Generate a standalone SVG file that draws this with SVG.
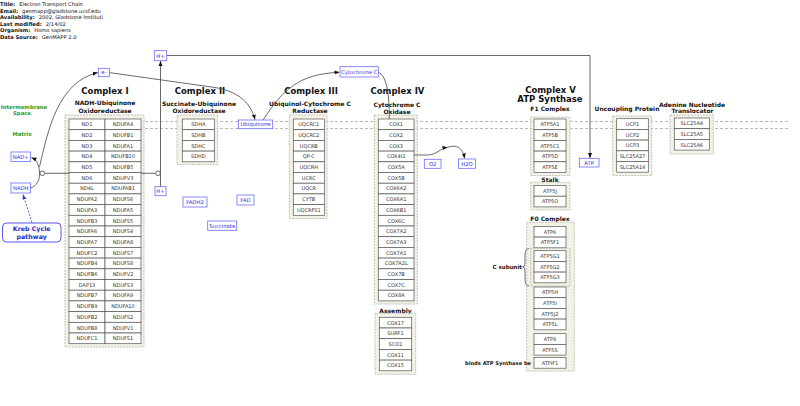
<svg xmlns="http://www.w3.org/2000/svg" width="800" height="406" viewBox="0 0 800 406">
<style>
text{font-family:"DejaVu Sans","Liberation Sans",sans-serif}
.hd{font-size:5.2px;fill:#111}
.hb{font-weight:bold}
.title{font-weight:bold;font-size:8.5px;text-anchor:middle;fill:#111}
.sub{font-weight:bold;font-size:6px;text-anchor:middle;fill:#111}
.side{font-weight:bold;font-size:5.5px;fill:#111}
.grn{font-weight:bold;font-size:5.3px;text-anchor:middle;fill:#2a9a2a}
.grp{fill:#efeedf;fill-opacity:.75;stroke:#b5b5ad;stroke-width:.8;stroke-dasharray:2 1}
.cell{fill:#fff;stroke:#555;stroke-width:.7}
.ct{font-size:5px;text-anchor:middle;fill:#333}
.lbl{fill:#fff;stroke:#6b6bff;stroke-width:.8}
.lt{font-size:5.3px;text-anchor:middle;fill:#3030dd}
.conn{fill:none;stroke:#444;stroke-width:.8}
.mem{fill:none;stroke:#aaa;stroke-width:.8;stroke-dasharray:3 2}
</style>
<defs>
<marker id="arr" viewBox="0 0 10 10" refX="10" refY="5" markerWidth="5" markerHeight="5" orient="auto" markerUnits="userSpaceOnUse"><path d="M0,1 L10,5 L0,9 z" fill="#111"/></marker>
<marker id="arrb" viewBox="0 0 10 10" refX="10" refY="5" markerWidth="5" markerHeight="5" orient="auto" markerUnits="userSpaceOnUse"><path d="M0,1 L10,5 L0,9 z" fill="#3333cc"/></marker>
</defs>
<rect width="800" height="406" fill="#fff"/>

<g id="header" class="hd">
<text x="0" y="6"><tspan class="hb">Title:</tspan><tspan dx="4">Electron Transport Chain</tspan></text>
<text x="0" y="12.6"><tspan class="hb">Email:</tspan><tspan dx="4">genmapp@gladstone.ucsf.edu</tspan></text>
<text x="0" y="19.2"><tspan class="hb">Availability:</tspan><tspan dx="4">2002, Gladstone Instituti</tspan></text>
<text x="0" y="25.8"><tspan class="hb">Last modified:</tspan><tspan dx="4">2/14/02</tspan></text>
<text x="0" y="32.4"><tspan class="hb">Organism:</tspan><tspan dx="4">Homo sapiens</tspan></text>
<text x="0" y="39"><tspan class="hb">Data Source:</tspan><tspan dx="4">GenMAPP 2.0</tspan></text>
</g>

<g id="membrane">
<line class="mem" x1="65" y1="121.5" x2="790" y2="121.5"/>
<line class="mem" x1="65" y1="128.5" x2="790" y2="128.5"/>
<text class="grn" x="24" y="108.5">Intermembrane</text>
<text class="grn" x="22" y="114.5">Space</text>
<text class="grn" x="22" y="136">Matrix</text>
</g>

<g id="complex-i">
<text class="title" x="105" y="94">Complex I</text>
<text class="sub" x="105" y="105">NADH-Ubiquinone</text>
<text class="sub" x="105" y="112.5">Oxidoreductase</text>
<rect class="grp" x="65" y="115" width="79" height="232"/>
<g id="ci-cells">
<rect class="cell" x="69" y="119" width="36" height="10.7"/><text class="ct" x="87" y="126.2">ND1</text>
<rect class="cell" x="105" y="119" width="36" height="10.7"/><text class="ct" x="123" y="126.2">NDUFA4</text>
<rect class="cell" x="69" y="129.7" width="36" height="10.7"/><text class="ct" x="87" y="136.9">ND2</text>
<rect class="cell" x="105" y="129.7" width="36" height="10.7"/><text class="ct" x="123" y="136.9">NDUFB1</text>
<rect class="cell" x="69" y="140.4" width="36" height="10.7"/><text class="ct" x="87" y="147.6">ND3</text>
<rect class="cell" x="105" y="140.4" width="36" height="10.7"/><text class="ct" x="123" y="147.6">NDUFA1</text>
<rect class="cell" x="69" y="151.1" width="36" height="10.7"/><text class="ct" x="87" y="158.3">ND4</text>
<rect class="cell" x="105" y="151.1" width="36" height="10.7"/><text class="ct" x="123" y="158.3">NDUFB10</text>
<rect class="cell" x="69" y="161.8" width="36" height="10.7"/><text class="ct" x="87" y="169">ND5</text>
<rect class="cell" x="105" y="161.8" width="36" height="10.7"/><text class="ct" x="123" y="169">NDUFB5</text>
<rect class="cell" x="69" y="172.5" width="36" height="10.7"/><text class="ct" x="87" y="179.7">ND6</text>
<rect class="cell" x="105" y="172.5" width="36" height="10.7"/><text class="ct" x="123" y="179.7">NDUFV3</text>
<rect class="cell" x="69" y="183.2" width="36" height="10.7"/><text class="ct" x="87" y="190.4">ND4L</text>
<rect class="cell" x="105" y="183.2" width="36" height="10.7"/><text class="ct" x="123" y="190.4">NDUFAB1</text>
<rect class="cell" x="69" y="193.9" width="36" height="10.7"/><text class="ct" x="87" y="201.1">NDUFA2</text>
<rect class="cell" x="105" y="193.9" width="36" height="10.7"/><text class="ct" x="123" y="201.1">NDUFS6</text>
<rect class="cell" x="69" y="204.6" width="36" height="10.7"/><text class="ct" x="87" y="211.8">NDUFA3</text>
<rect class="cell" x="105" y="204.6" width="36" height="10.7"/><text class="ct" x="123" y="211.8">NDUFA5</text>
<rect class="cell" x="69" y="215.3" width="36" height="10.7"/><text class="ct" x="87" y="222.5">NDUFB3</text>
<rect class="cell" x="105" y="215.3" width="36" height="10.7"/><text class="ct" x="123" y="222.5">NDUFS5</text>
<rect class="cell" x="69" y="226" width="36" height="10.7"/><text class="ct" x="87" y="233.2">NDUFA6</text>
<rect class="cell" x="105" y="226" width="36" height="10.7"/><text class="ct" x="123" y="233.2">NDUFS4</text>
<rect class="cell" x="69" y="236.7" width="36" height="10.7"/><text class="ct" x="87" y="243.9">NDUFA7</text>
<rect class="cell" x="105" y="236.7" width="36" height="10.7"/><text class="ct" x="123" y="243.9">NDUFA8</text>
<rect class="cell" x="69" y="247.4" width="36" height="10.7"/><text class="ct" x="87" y="254.6">NDUFC2</text>
<rect class="cell" x="105" y="247.4" width="36" height="10.7"/><text class="ct" x="123" y="254.6">NDUFS7</text>
<rect class="cell" x="69" y="258.1" width="36" height="10.7"/><text class="ct" x="87" y="265.3">NDUFB4</text>
<rect class="cell" x="105" y="258.1" width="36" height="10.7"/><text class="ct" x="123" y="265.3">NDUFS8</text>
<rect class="cell" x="69" y="268.8" width="36" height="10.7"/><text class="ct" x="87" y="276">NDUFB6</text>
<rect class="cell" x="105" y="268.8" width="36" height="10.7"/><text class="ct" x="123" y="276">NDUFV2</text>
<rect class="cell" x="69" y="279.5" width="36" height="10.7"/><text class="ct" x="87" y="286.7">DAP13</text>
<rect class="cell" x="105" y="279.5" width="36" height="10.7"/><text class="ct" x="123" y="286.7">NDUFS3</text>
<rect class="cell" x="69" y="290.2" width="36" height="10.7"/><text class="ct" x="87" y="297.4">NDUFB7</text>
<rect class="cell" x="105" y="290.2" width="36" height="10.7"/><text class="ct" x="123" y="297.4">NDUFA9</text>
<rect class="cell" x="69" y="300.9" width="36" height="10.7"/><text class="ct" x="87" y="308.1">NDUFB9</text>
<rect class="cell" x="105" y="300.9" width="36" height="10.7"/><text class="ct" x="123" y="308.1">NDUFA10</text>
<rect class="cell" x="69" y="311.6" width="36" height="10.7"/><text class="ct" x="87" y="318.8">NDUFB2</text>
<rect class="cell" x="105" y="311.6" width="36" height="10.7"/><text class="ct" x="123" y="318.8">NDUFS2</text>
<rect class="cell" x="69" y="322.3" width="36" height="10.7"/><text class="ct" x="87" y="329.5">NDUFB8</text>
<rect class="cell" x="105" y="322.3" width="36" height="10.7"/><text class="ct" x="123" y="329.5">NDUFV1</text>
<rect class="cell" x="69" y="333" width="36" height="10.7"/><text class="ct" x="87" y="340.2">NDUFC1</text>
<rect class="cell" x="105" y="333" width="36" height="10.7"/><text class="ct" x="123" y="340.2">NDUFS1</text>
</g>
</g>

<g id="complex-ii">
<text class="title" x="200" y="94">Complex II</text>
<text class="sub" x="199" y="105.5">Succinate-Ubiquinone</text>
<text class="sub" x="199" y="113">Oxidoreductase</text>
<rect class="grp" x="177" y="115" width="40.7" height="49.5"/>
<rect class="cell" x="182.3" y="119" width="32" height="10.7"/><text class="ct" x="198.3" y="126.2">SDHA</text>
<rect class="cell" x="182.3" y="129.7" width="32" height="10.7"/><text class="ct" x="198.3" y="136.9">SDHB</text>
<rect class="cell" x="182.3" y="140.4" width="32" height="10.7"/><text class="ct" x="198.3" y="147.6">SDHC</text>
<rect class="cell" x="182.3" y="151.1" width="32" height="10.7"/><text class="ct" x="198.3" y="158.3">SDHD</text>
</g>

<g id="complex-iii">
<text class="title" x="311" y="94">Complex III</text>
<text class="sub" x="310" y="105.5">Ubiquinol-Cytochrome C</text>
<text class="sub" x="310" y="113">Reductase</text>
<rect class="grp" x="289.3" y="115" width="37.7" height="103.5"/>
<rect class="cell" x="293.3" y="119" width="31" height="10.7"/><text class="ct" x="308.8" y="126.2">UQCRC1</text>
<rect class="cell" x="293.3" y="129.7" width="31" height="10.7"/><text class="ct" x="308.8" y="136.9">UQCRC2</text>
<rect class="cell" x="293.3" y="140.4" width="31" height="10.7"/><text class="ct" x="308.8" y="147.6">UQCRB</text>
<rect class="cell" x="293.3" y="151.1" width="31" height="10.7"/><text class="ct" x="308.8" y="158.3">QP-C</text>
<rect class="cell" x="293.3" y="161.8" width="31" height="10.7"/><text class="ct" x="308.8" y="169">UQCRH</text>
<rect class="cell" x="293.3" y="172.5" width="31" height="10.7"/><text class="ct" x="308.8" y="179.7">UCRC</text>
<rect class="cell" x="293.3" y="183.2" width="31" height="10.7"/><text class="ct" x="308.8" y="190.4">UQCR</text>
<rect class="cell" x="293.3" y="193.9" width="31" height="10.7"/><text class="ct" x="308.8" y="201.1">CYTB</text>
<rect class="cell" x="293.3" y="204.6" width="31" height="10.7"/><text class="ct" x="308.8" y="211.8">UQCRFS1</text>
</g>

<g id="complex-iv">
<text class="title" x="397.5" y="94">Complex IV</text>
<text class="sub" x="397" y="106.5">Cytochrome C</text>
<text class="sub" x="397" y="114">Oxidase</text>
<rect class="grp" x="374.3" y="115" width="43" height="189"/>
<rect class="cell" x="378.3" y="119" width="35.7" height="10.7"/><text class="ct" x="396.2" y="126.2">COX1</text>
<rect class="cell" x="378.3" y="129.7" width="35.7" height="10.7"/><text class="ct" x="396.2" y="136.9">COX2</text>
<rect class="cell" x="378.3" y="140.4" width="35.7" height="10.7"/><text class="ct" x="396.2" y="147.6">COX3</text>
<rect class="cell" x="378.3" y="151.1" width="35.7" height="10.7"/><text class="ct" x="396.2" y="158.3">COX4I1</text>
<rect class="cell" x="378.3" y="161.8" width="35.7" height="10.7"/><text class="ct" x="396.2" y="169">COX5A</text>
<rect class="cell" x="378.3" y="172.5" width="35.7" height="10.7"/><text class="ct" x="396.2" y="179.7">COX5B</text>
<rect class="cell" x="378.3" y="183.2" width="35.7" height="10.7"/><text class="ct" x="396.2" y="190.4">COX6A2</text>
<rect class="cell" x="378.3" y="193.9" width="35.7" height="10.7"/><text class="ct" x="396.2" y="201.1">COX6A1</text>
<rect class="cell" x="378.3" y="204.6" width="35.7" height="10.7"/><text class="ct" x="396.2" y="211.8">COX6B1</text>
<rect class="cell" x="378.3" y="215.3" width="35.7" height="10.7"/><text class="ct" x="396.2" y="222.5">COX6C</text>
<rect class="cell" x="378.3" y="226" width="35.7" height="10.7"/><text class="ct" x="396.2" y="233.2">COX7A2</text>
<rect class="cell" x="378.3" y="236.7" width="35.7" height="10.7"/><text class="ct" x="396.2" y="243.9">COX7A3</text>
<rect class="cell" x="378.3" y="247.4" width="35.7" height="10.7"/><text class="ct" x="396.2" y="254.6">COX7A1</text>
<rect class="cell" x="378.3" y="258.1" width="35.7" height="10.7"/><text class="ct" x="396.2" y="265.3">COX7A2L</text>
<rect class="cell" x="378.3" y="268.8" width="35.7" height="10.7"/><text class="ct" x="396.2" y="276">COX7B</text>
<rect class="cell" x="378.3" y="279.5" width="35.7" height="10.7"/><text class="ct" x="396.2" y="286.7">COX7C</text>
<rect class="cell" x="378.3" y="290.2" width="35.7" height="10.7"/><text class="ct" x="396.2" y="297.4">COX8A</text>
</g>

<g id="assembly">
<text class="sub" x="395.5" y="312.5">Assembly</text>
<rect class="grp" x="375" y="313.3" width="40.7" height="61"/>
<rect class="cell" x="379.3" y="317.3" width="32.4" height="10.7"/><text class="ct" x="395.5" y="324.5">COX17</text>
<rect class="cell" x="379.3" y="328" width="32.4" height="10.7"/><text class="ct" x="395.5" y="335.2">SURF1</text>
<rect class="cell" x="379.3" y="338.7" width="32.4" height="10.7"/><text class="ct" x="395.5" y="345.9">SCO1</text>
<rect class="cell" x="379.3" y="349.4" width="32.4" height="10.7"/><text class="ct" x="395.5" y="356.6">COX11</text>
<rect class="cell" x="379.3" y="360.1" width="32.4" height="10.7"/><text class="ct" x="395.5" y="367.3">COX15</text>
</g>

<g id="complex-v">
<text class="title" x="550.5" y="92.5">Complex V</text>
<text class="title" x="550" y="101.5">ATP Synthase</text>
<g id="f1-complex">
<text class="sub" x="550" y="111">F1 Complex</text>
<rect class="grp" x="530.7" y="117" width="39.3" height="58.5"/>
<rect class="cell" x="534" y="119" width="32" height="10.7"/><text class="ct" x="550" y="126.2">ATP5A1</text>
<rect class="cell" x="534" y="129.7" width="32" height="10.7"/><text class="ct" x="550" y="136.9">ATP5B</text>
<rect class="cell" x="534" y="140.4" width="32" height="10.7"/><text class="ct" x="550" y="147.6">ATP5C1</text>
<rect class="cell" x="534" y="151.1" width="32" height="10.7"/><text class="ct" x="550" y="158.3">ATP5D</text>
<rect class="cell" x="534" y="161.8" width="32" height="10.7"/><text class="ct" x="550" y="169">ATP5E</text>
</g>
<g id="stalk">
<text class="sub" x="550" y="181.5">Stalk</text>
<rect class="grp" x="530.7" y="182.3" width="39.3" height="27.5"/>
<rect class="cell" x="534" y="185.5" width="32" height="10.7"/><text class="ct" x="550" y="192.7">ATP5J</text>
<rect class="cell" x="534" y="196.2" width="32" height="10.7"/><text class="ct" x="550" y="203.4">ATP5O</text>
</g>
<g id="f0-complex">
<text class="sub" x="550" y="221">F0 Complex</text>
<rect class="grp" x="526.7" y="222.3" width="47.6" height="148.7"/>
<text class="side" x="465" y="364.7" style="font-size:5.15px">binds ATP Synthase be</text>
<text class="side" x="522" y="268.6" text-anchor="end">C subunit</text>
<path class="conn" d="M529,248.5 Q525,248.5 525,256 L525,263.5 Q525,266.8 522.5,266.8 Q525,266.8 525,270 L525,278.5 Q525,286 529,286" stroke="#333"/>
<rect class="cell" x="534" y="226.4" width="32" height="10.7"/><text class="ct" x="550" y="233.6">ATP6</text>
<rect class="cell" x="534" y="237.1" width="32" height="10.7"/><text class="ct" x="550" y="244.3">ATP5F1</text>
<rect class="grp" x="530.7" y="248.3" width="39.3" height="38"/>
<rect class="cell" x="534" y="250.7" width="32" height="10.7"/><text class="ct" x="550" y="257.9">ATP5G1</text>
<rect class="cell" x="534" y="261.4" width="32" height="10.7"/><text class="ct" x="550" y="268.6">ATP5G2</text>
<rect class="cell" x="534" y="272.1" width="32" height="10.7"/><text class="ct" x="550" y="279.3">ATP5G3</text>
<rect class="cell" x="534" y="287" width="32" height="10.7"/><text class="ct" x="550" y="294.2">ATP5H</text>
<rect class="cell" x="534" y="297.7" width="32" height="10.7"/><text class="ct" x="550" y="304.9">ATP5I</text>
<rect class="cell" x="534" y="308.4" width="32" height="10.7"/><text class="ct" x="550" y="315.6">ATP5J2</text>
<rect class="cell" x="534" y="319.1" width="32" height="10.7"/><text class="ct" x="550" y="326.3">ATP5L</text>
<rect class="cell" x="534" y="333.7" width="32" height="10.7"/><text class="ct" x="550" y="340.9">ATP8</text>
<rect class="cell" x="534" y="344.4" width="32" height="10.7"/><text class="ct" x="550" y="351.6">ATP5S</text>
<rect class="cell" x="534" y="357.5" width="32" height="10.7"/><text class="ct" x="550" y="364.7">ATPIF1</text>
</g>
</g>

<g id="uncoupling-protein">
<text class="sub" x="627" y="111">Uncoupling Protein</text>
<rect class="grp" x="612.7" y="116" width="39" height="59.5"/>
<rect class="cell" x="616.7" y="118.7" width="31.6" height="10.7"/><text class="ct" x="632.5" y="125.9">UCP1</text>
<rect class="cell" x="616.7" y="129.4" width="31.6" height="10.7"/><text class="ct" x="632.5" y="136.6">UCP2</text>
<rect class="cell" x="616.7" y="140.1" width="31.6" height="10.7"/><text class="ct" x="632.5" y="147.3">UCP3</text>
<rect class="cell" x="616.7" y="150.8" width="31.6" height="10.7"/><text class="ct" x="632.5" y="158">SLC25A27</text>
<rect class="cell" x="616.7" y="161.5" width="31.6" height="10.7"/><text class="ct" x="632.5" y="168.7">SLC25A14</text>
</g>

<g id="adenine-nucleotide-translocator">
<text class="sub" x="692" y="106.5">Adenine Nucleotide</text>
<text class="sub" x="692.5" y="112.5">Translocator</text>
<rect class="grp" x="670" y="115" width="43.3" height="39"/>
<rect class="cell" x="674.3" y="118" width="35" height="10.7"/><text class="ct" x="691.8" y="125.2">SLC25A4</text>
<rect class="cell" x="674.3" y="128.7" width="35" height="10.7"/><text class="ct" x="691.8" y="135.9">SLC25A5</text>
<rect class="cell" x="674.3" y="139.4" width="35" height="10.7"/><text class="ct" x="691.8" y="146.6">SLC25A6</text>
</g>

<g id="connectors">
<path class="conn" d="M30.5,188 C37,186 40,180 39.5,172 C39,165 37,160 31.5,157.5" marker-end="url(#arr)"/>
<path class="conn" d="M39.5,167 C48,130 58,82 97.8,72.6" marker-end="url(#arr)"/>
<line class="conn" x1="44.6" y1="173.3" x2="69" y2="173.3"/>
<circle cx="42.3" cy="173.3" r="2.3" fill="#fff" stroke="#444" stroke-width=".8"/>
<line x1="32" y1="222.5" x2="23" y2="194.5" stroke="#3333cc" stroke-width=".8" stroke-dasharray="2 1.5" marker-end="url(#arrb)"/>
<line class="conn" x1="141" y1="173.3" x2="155.7" y2="173.3"/>
<circle cx="158" cy="173.3" r="2.3" fill="#fff" stroke="#444" stroke-width=".8"/>
<line class="conn" x1="160.5" y1="186.7" x2="160.5" y2="61" marker-end="url(#arr)"/>
<path class="conn" d="M166.7,55.5 H590 V158" marker-end="url(#arr)"/>
<path class="conn" d="M109.3,72.6 L215,87.5 C235,91 250,100 255,119.6" marker-end="url(#arr)"/>
<path class="conn" d="M263,120 C283,90 298,74 339.5,72.3" marker-end="url(#arr)"/>
<path class="conn" d="M378.3,72 C386,76 389.3,90 389.3,119"/>
<path class="conn" d="M414,155 L428,155 C436,155 440,148.5 447.5,147.3" marker-end="url(#arr)"/>
<path class="conn" d="M447.5,147.3 C456,144.5 463,147 464.5,158.5" marker-end="url(#arr)"/>
</g>

<g id="label-e">
<rect class="lbl" x="98.3" y="68.3" width="11" height="8.4"/><text class="lt" x="103.8" y="74.4">e-</text>
</g>
<g id="label-hplus-top">
<rect class="lbl" x="154.3" y="50.7" width="12.4" height="10"/><text class="lt" x="160.5" y="57.6">H+</text>
</g>
<g id="label-hplus-bottom">
<rect class="lbl" x="155" y="186.7" width="11" height="9"/><text class="lt" x="160.5" y="193.1">H+</text>
</g>
<g id="label-nadplus">
<rect class="lbl" x="11" y="152" width="19.5" height="9.5"/><text class="lt" x="20.75" y="158.7">NAD+</text>
</g>
<g id="label-nadh">
<rect class="lbl" x="11" y="183" width="19.5" height="10"/><text class="lt" x="20.75" y="189.9">NADH</text>
</g>
<g id="label-ubiquinone">
<rect class="lbl" x="238.3" y="120" width="34.4" height="8.7"/><text class="lt" x="255.5" y="126.3">Ubiquinone</text>
</g>
<g id="label-cytochrome-c">
<rect class="lbl" x="340" y="66.7" width="38.3" height="10.3"/><text class="lt" x="359.4" y="73.8" style="font-size:5.1px">Cytochrome C</text>
</g>
<g id="label-fadh2">
<rect class="lbl" x="183" y="197" width="24" height="10"/><text class="lt" x="195" y="203.9">FADH2</text>
</g>
<g id="label-fad">
<rect class="lbl" x="237" y="195" width="17" height="10"/><text class="lt" x="245.5" y="201.9">FAD</text>
</g>
<g id="label-succinate">
<rect class="lbl" x="207.7" y="221" width="29" height="9.3"/><text class="lt" x="222.2" y="227.6">Succinate</text>
</g>
<g id="label-o2">
<rect class="lbl" x="424.3" y="159.3" width="16.7" height="9"/><text class="lt" x="432.7" y="165.8">O2</text>
</g>
<g id="label-h2o">
<rect class="lbl" x="458.5" y="159" width="17" height="9.3"/><text class="lt" x="467" y="165.6">H2O</text>
</g>
<g id="label-atp">
<rect class="lbl" x="579.3" y="158.3" width="19.7" height="8.7"/><text class="lt" x="589.2" y="164.6">ATP</text>
</g>
<g id="kreb-cycle">
<rect x="2.5" y="223" width="58.5" height="19" rx="4" fill="#fff" stroke="#4444ee" stroke-width=".9"/>
<text x="31.7" y="231" text-anchor="middle" style="font-size:6.3px;font-weight:bold;fill:#2828d0">Kreb Cycle</text>
<text x="31.7" y="239" text-anchor="middle" style="font-size:6.3px;font-weight:bold;fill:#2828d0">pathway</text>
</g>
</svg>
